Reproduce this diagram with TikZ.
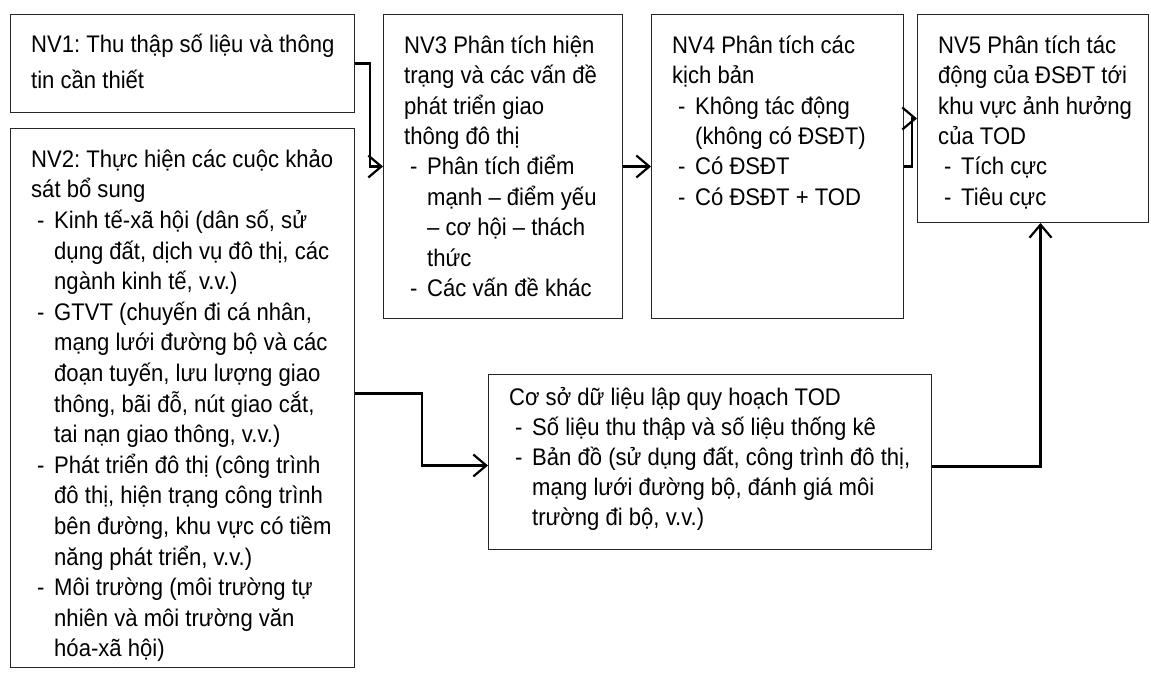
\documentclass[tikz,border=0pt]{standalone}
\usepackage{fontspec}
\setmainfont{Liberation Sans}[FakeStretch=0.92]
\usetikzlibrary{arrows.meta}
\frenchspacing
\newcommand\fr{\rule{0pt}{26pt}}
\newcommand\bl[1]{\makebox[23pt][l]{\hspace{6pt}-}#1}
\newcommand\cl[1]{\hspace{23pt}#1}
\tikzset{
  box/.style={draw=black!85, line width=1pt, inner sep=0pt, anchor=north west, fill=white},
  txt/.style={inner sep=0pt, anchor=north west, align=left, font=\fontsize{24}{30.4}\selectfont},
  conn/.style={line width=2.2pt, -{Straight Barb[length=13pt,width=22pt,line width=2.2pt]}},
}
\begin{document}
\begin{tikzpicture}[x=1pt,y=-1pt]
\useasboundingbox (0,0) rectangle (1151,672);
\fill[white] (0,0) rectangle (1151,672);
\node[box, minimum width=344pt, minimum height=98pt] (nv1) at (10,14) {};
\node[box, minimum width=344pt, minimum height=539pt] (nv2) at (10,128) {};
\node[box, minimum width=239pt, minimum height=304pt] (nv3) at (383,14) {};
\node[box, minimum width=252pt, minimum height=304pt] (nv4) at (651,14) {};
\node[box, minimum width=231pt, minimum height=208pt] (nv5) at (917,14) {};
\node[box, minimum width=443pt, minimum height=175pt] (db) at (488,374) {};

\node[txt, font=\fontsize{24}{36}\selectfont] (t1) at (31,26) {\fr NV1: Thu thập số liệu và thông\\tin cần thiết};
\node[txt, font=\fontsize{24}{30.6}\selectfont] (t2) at (31,141) {\fr NV2: Thực hiện các cuộc khảo\\
sát bổ sung\\
\bl{Kinh tế-xã hội (dân số, sử}\\
\cl{dụng đất, dịch vụ đô thị, các}\\
\cl{ngành kinh tế, v.v.)}\\
\bl{GTVT (chuyến đi cá nhân,}\\
\cl{mạng lưới đường bộ và các}\\
\cl{đoạn tuyến, lưu lượng giao}\\
\cl{thông, bãi đỗ, nút giao cắt,}\\
\cl{tai nạn giao thông, v.v.)}\\
\bl{Phát triển đô thị (công trình}\\
\cl{đô thị, hiện trạng công trình}\\
\cl{bên đường, khu vực có tiềm}\\
\cl{năng phát triển, v.v.)}\\
\bl{Môi trường (môi trường tự}\\
\cl{nhiên và môi trường văn}\\
\cl{hóa-xã hội)}};
\node[txt] (t3) at (404,27) {\fr NV3 Phân tích hiện\\
trạng và các vấn đề\\
phát triển giao\\
thông đô thị\\
\bl{Phân tích điểm}\\
\cl{mạnh – điểm yếu}\\
\cl{– cơ hội – thách}\\
\cl{thức}\\
\bl{Các vấn đề khác}};
\node[txt] (t4) at (672,27) {\fr NV4 Phân tích các\\
kịch bản\\
\bl{Không tác động}\\
\cl{(không có ĐSĐT)}\\
\bl{Có ĐSĐT}\\
\bl{Có ĐSĐT + TOD}};
\node[txt] (t5) at (938,27) {\fr NV5 Phân tích tác\\
động của ĐSĐT tới\\
khu vực ảnh hưởng\\
của TOD\\
\bl{Tích cực}\\
\bl{Tiêu cực}};
\node[txt, font=\fontsize{24}{30}\selectfont] (t6) at (509,379) {\fr Cơ sở dữ liệu lập quy hoạch TOD\\
\bl{Số liệu thu thập và số liệu thống kê}\\
\bl{Bản đồ (sử dụng đất, công trình đô thị,}\\
\cl{mạng lưới đường bộ, đánh giá môi}\\
\cl{trường đi bộ, v.v.)}};

\draw[conn] (nv1.east) -- ++(15,0) |- (nv3.west);
\draw[conn] (nv3.east) -- (nv4.west);
\draw[conn] (nv4.east) -- ++(8,0) |- (nv5.west);
\draw[conn] ([yshift=4.5pt]nv2.east) -- ++(67,0) |- ([yshift=-3.5pt]db.west);
\draw[conn] ([yshift=-4.5pt]db.east) -| ([xshift=7.5pt]nv5.south);
\end{tikzpicture}
\end{document}
